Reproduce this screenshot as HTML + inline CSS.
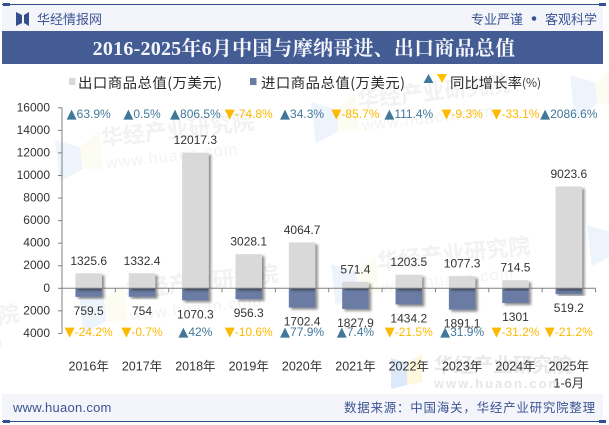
<!DOCTYPE html>
<html lang="zh">
<head>
<meta charset="utf-8">
<title>2016-2025年6月中国与摩纳哥进、出口商品总值</title>
<style>
html,body{margin:0;padding:0;background:#fff;}
body{width:609px;height:425px;overflow:hidden;}
svg{display:block;}
text{font-family:"Liberation Sans","Noto Sans CJK SC",sans-serif;}
.cjk{font-family:"Noto Sans CJK SC","Liberation Sans",sans-serif;}
.wm{font-family:"Noto Sans CJK SC",sans-serif;font-weight:700;}
.tri{font-family:"DejaVu Sans",sans-serif;font-size:13px;}
</style>
</head>
<body>
<svg id="chart" xmlns="http://www.w3.org/2000/svg" width="609" height="425" viewBox="0 0 609 425">
  <defs>
    <filter id="barShadow" x="-20%" y="-20%" width="150%" height="150%">
      <feDropShadow dx="2.4" dy="2" stdDeviation="1.3" flood-color="#000" flood-opacity="0.45"/>
    </filter>
  </defs>

  <rect x="0" y="0" width="609" height="425" fill="#fff"/>

  <!-- header -->
  <rect x="2" y="5" width="601" height="27" fill="#f3f5fa"/>
  <rect x="2" y="4" width="601" height="1" fill="#344f8d"/>
  <rect x="3" y="3" width="7" height="3" fill="#344f8d"/>
  <rect x="599" y="3" width="7" height="3" fill="#344f8d"/>
  <g fill="#344f8d">
    <polygon points="16,12 22,15 22,23 16,26"/>
    <polygon points="29,12 24,15 24,23 29,26"/>
  </g>
  <text class="cjk" x="37" y="24" font-size="13" fill="#3b5393">华经情报网</text>
  <text class="cjk" x="471" y="24" font-size="13" fill="#3b5393">专业严谨</text>
  <circle cx="534" cy="18.5" r="2.3" fill="#3b5393"/>
  <text class="cjk" x="545" y="24" font-size="13" fill="#3b5393">客观科学</text>

  <!-- title -->
  <rect x="2" y="31" width="601" height="33" fill="#445c94"/>
  <text x="304" y="55" text-anchor="middle" font-size="20" font-weight="700" letter-spacing="0.23" fill="#f4f6fb" style="font-family:'Liberation Serif','Noto Serif CJK SC',serif">2016-2025年6月中国与摩纳哥进、出口商品总值</text>

  <!-- watermarks -->
  <g>
    <g transform="translate(55,140) rotate(-6.3)">
      <polygon points="0,0 24,10 24,32 0,42" fill="#eef4fc"/>
      <polygon points="24,10 45,-4 45,34 24,32" fill="#fdfcf2"/>
      <text class="wm" x="46" y="11" font-size="22" fill="#f2f2f2">华经产业研究院</text>
      <text x="48" y="34" font-size="16" fill="#f3f3f3" letter-spacing="1.2">www.huaon.com</text>
    </g>
    <g transform="translate(311,102) rotate(-6.3)">
      <polygon points="0,0 24,10 24,32 0,42" fill="#eef4fc"/>
      <polygon points="24,10 45,-4 45,34 24,32" fill="#fdfcf2"/>
      <text class="wm" x="46" y="11" font-size="22" fill="#f2f2f2">华经产业研究院</text>
      <text x="48" y="34" font-size="16" fill="#f3f3f3" letter-spacing="1.2">www.huaon.com</text>
    </g>
    <g transform="translate(331,264) rotate(-6.3)">
      <polygon points="0,0 24,10 24,32 0,42" fill="#eef4fc"/>
      <polygon points="24,10 45,-4 45,34 24,32" fill="#fdfcf2"/>
      <text class="wm" x="46" y="11" font-size="22" fill="#f2f2f2">华经产业研究院</text>
      <text x="48" y="34" font-size="16" fill="#f3f3f3" letter-spacing="1.2">www.huaon.com</text>
    </g>
    <g transform="translate(79,292) rotate(-6.3)">
      <polygon points="0,0 24,10 24,32 0,42" fill="#eef4fc"/>
      <polygon points="24,10 45,-4 45,34 24,32" fill="#fdfcf2"/>
      <text class="wm" x="46" y="11" font-size="22" fill="#f2f2f2">华经产业研究院</text>
      <text x="48" y="34" font-size="16" fill="#f3f3f3" letter-spacing="1.2">www.huaon.com</text>
    </g>
    <g transform="translate(-180,332) rotate(-6.3)">
      <text class="wm" x="46" y="11" font-size="22" fill="#f2f2f2">华经产业研究院</text>
      <text x="48" y="34" font-size="16" fill="#f3f3f3" letter-spacing="1.2">www.huaon.com</text>
    </g>
    <g transform="translate(587,225) rotate(-6.3)">
      <polygon points="0,0 24,10 24,32 0,42" fill="#eef4fc"/>
    </g>
    <g transform="translate(570,75) rotate(-6.3)">
      <polygon points="0,0 24,10 24,32 0,42" fill="#eef4fc"/>
      <polygon points="24,10 45,-4 45,34 24,32" fill="#fdfcf2"/>
    </g>
    <polygon points="391,358 407,363 407,385 391,389" fill="#dce9fb"/>
    <polygon points="407,363 422,354 422,382 407,385" fill="#fdf8dd"/>
    <text class="wm" x="434" y="372" font-size="19.7" fill="#e9e9e9">华经产业研究院</text>
    <text x="434" y="388" font-size="13" font-weight="700" fill="#e6e6e6" textLength="126" lengthAdjust="spacing">www.huaon.com</text>
  </g>

  <!-- legend -->
  <g>
    <rect x="69" y="78" width="6.5" height="7" fill="#d9d9d9"/>
    <text class="cjk" x="78" y="88" font-size="14.4" fill="#2b2b2b" textLength="144" lengthAdjust="spacing">出口商品总值(万美元)</text>
    <rect x="250" y="78" width="6.5" height="7" fill="#6b7ca4"/>
    <text class="cjk" x="261" y="88" font-size="14.4" fill="#2b2b2b" textLength="144" lengthAdjust="spacing">进口商品总值(万美元)</text>
    <polygon points="428.5,74 433.5,83 423.5,83" fill="#3d7a9c"/>
    <polygon points="437,74 447,74 442,83" fill="#ffc000"/>
    <text class="cjk" x="450" y="88" font-size="14.4" fill="#2b2b2b">同比增长率</text>
    <text class="cjk" x="522" y="87" font-size="12" fill="#333" textLength="19" lengthAdjust="spacing">(%)</text>
  </g>

  <g id="plot"></g>

  <!-- footer -->
  <rect x="2" y="394" width="601" height="27" fill="#f3f5fa"/>
  <rect x="2" y="421" width="601" height="1" fill="#344f8d"/>
  <rect x="3" y="420" width="7" height="3" fill="#344f8d"/>
  <rect x="599" y="420" width="7" height="3" fill="#344f8d"/>
  <text x="13" y="412" font-size="13" fill="#3b5393" letter-spacing="0.25">www.huaon.com</text>
  <text class="cjk" x="344" y="412" font-size="12.5" letter-spacing="0.76" fill="#3b5393">数据来源：中国海关，华经产业研究院整理</text>
</svg>

<script>
const categories = ['2016年', '2017年', '2018年', '2019年', '2020年', '2021年', '2022年', '2023年', '2024年', '2025年'];
const categorySubLabels = ['', '', '', '', '', '', '', '', '', '1-6月'];
const exportValues = [1325.6, 1332.4, 12017.3, 3028.1, 4064.7, 571.4, 1203.5, 1077.3, 714.5, 9023.6];
const importValues = [759.5, 754, 1070.3, 956.3, 1702.4, 1827.9, 1434.2, 1891.1, 1301, 519.2];
const exportGrowth = [63.9, 0.5, 806.5, -74.8, 34.3, -85.7, 111.4, -9.3, -33.1, 2086.6];
const importGrowth = [-24.2, -0.7, 42, -10.6, 77.9, 7.4, -21.5, 31.9, -31.2, -21.2];
const yTicks = [16000, 14000, 12000, 10000, 8000, 6000, 4000, 2000, 0, -2000, -4000];

const plot = document.getElementById('plot');
const NS = 'http://www.w3.org/2000/svg';
const left = 62, right = 595.5, zeroY = 288.3, topY = 107.8;
const slot = (right - left) / categories.length;
const barW = 26.5;

function yPos(v) { return zeroY - (v / 16000) * (zeroY - topY); }
function xPos(i) { return left + slot * (i + 0.5); }
function make(tag) { return document.createElementNS(NS, tag); }
function put(el, key, val) { el.setAttribute(key, val); }
function makeText(str, x, y, size, fill, anchor) {
  const t = make('text');
  put(t, 'x', x);
  put(t, 'y', y);
  put(t, 'font-size', size);
  put(t, 'fill', fill);
  put(t, 'text-anchor', anchor);
  t.textContent = str;
  return t;
}
function makeGrowth(val, x, y) {
  const t = makeText('', x, y, 12, val >= 0 ? '#41789a' : '#fdb900', 'middle');
  const tri = make('tspan');
  put(tri, 'class', 'tri');
  tri.textContent = val >= 0 ? '▲' : '▼';
  t.appendChild(tri);
  const num = make('tspan');
  num.textContent = val + '%';
  t.appendChild(num);
  return t;
}
function makeBar(x, y, w, h, fill) {
  const r = make('rect');
  put(r, 'x', x);
  put(r, 'y', y);
  put(r, 'width', w);
  put(r, 'height', h);
  put(r, 'fill', fill);
  put(r, 'filter', 'url(#barShadow)');
  return r;
}

categories.forEach(function (c, i) {
  const cx = xPos(i);
  const topBar = yPos(exportValues[i]);
  const botBar = yPos(-importValues[i]);

  const imp = makeBar(cx - barW / 2, zeroY, barW, botBar - zeroY, '#6b7ca4');
  
  
  plot.appendChild(imp);

  const exp = makeBar(cx - barW / 2, topBar, barW, zeroY - topBar, '#d9d9d9');
  
  
  plot.appendChild(exp);
});

/* axes */
const yAxis = make('line');


put(yAxis, 'x1', left); put(yAxis, 'x2', left);
put(yAxis, 'y1', yPos(16000)); put(yAxis, 'y2', yPos(-4000));
put(yAxis, 'stroke', '#808080'); put(yAxis, 'stroke-width', '1');
plot.appendChild(yAxis);

const xAxis = make('line');


put(xAxis, 'x1', left); put(xAxis, 'x2', right);
put(xAxis, 'y1', zeroY); put(xAxis, 'y2', zeroY);
put(xAxis, 'stroke', '#808080'); put(xAxis, 'stroke-width', '1');
plot.appendChild(xAxis);

yTicks.forEach(function (v) {
  const y = yPos(v);
  const tick = make('line');
  
  
  put(tick, 'x1', left - 4); put(tick, 'x2', left);
  put(tick, 'y1', y); put(tick, 'y2', y);
  put(tick, 'stroke', '#808080');
  plot.appendChild(tick);

  const label = makeText(String(Math.abs(v)), left - 12, y + 3.5, 12, '#333', 'end');
  
  
  plot.appendChild(label);
});

for (let i = 0; i <= categories.length; i++) {
  const tx = left + slot * i;
  const tick = make('line');
  
  
  put(tick, 'x1', tx); put(tick, 'x2', tx);
  put(tick, 'y1', zeroY); put(tick, 'y2', zeroY + 4);
  put(tick, 'stroke', '#808080');
  plot.appendChild(tick);
}

categories.forEach(function (c, i) {
  const cx = xPos(i);

  const expLabel = makeText(String(exportValues[i]), cx, yPos(exportValues[i]) - 8.5, 12, '#333', 'middle');
  
  
  plot.appendChild(expLabel);

  const impLabel = makeText(String(importValues[i]), cx, yPos(-importValues[i]) + 18, 12, '#333', 'middle');
  
  
  plot.appendChild(impLabel);

  const egLabel = makeGrowth(exportGrowth[i], cx, 118);
  
  
  plot.appendChild(egLabel);

  const igLabel = makeGrowth(importGrowth[i], cx, 336);
  
  
  plot.appendChild(igLabel);

  const catLabel = makeText(c, cx, 370.5, 12.5, '#333', 'middle');
  
  
  plot.appendChild(catLabel);

  if (categorySubLabels[i]) {
    const sub = makeText(categorySubLabels[i], cx, 387.5, 12.5, '#333', 'middle');
    
    
    plot.appendChild(sub);
  }
});
</script>
</body>
</html>
